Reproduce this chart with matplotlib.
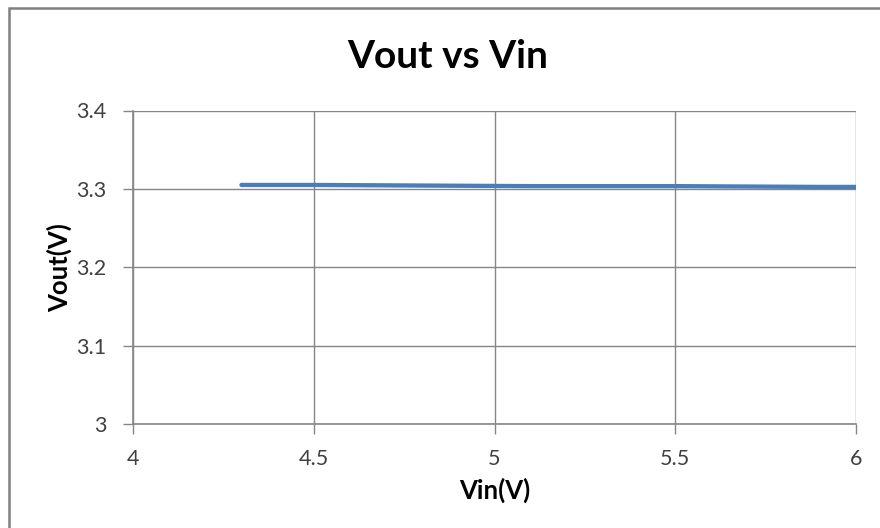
import matplotlib.pyplot as plt
from matplotlib.patches import Rectangle

# Vout vs Vin measurement
vin = [4.3, 4.5, 4.7, 4.9, 5.1, 5.3, 5.5, 5.7, 5.9, 6.0]
vout = [3.305, 3.305, 3.3045, 3.304, 3.3035, 3.3035, 3.3035, 3.303, 3.3025, 3.3025]

x_ticks = [4, 4.5, 5, 5.5, 6]
x_labels = ["4", "4.5", "5", "5.5", "6"]
y_ticks = [3, 3.1, 3.2, 3.3, 3.4]
y_labels = ["3", "3.1", "3.2", "3.3", "3.4"]

plt.rcParams['font.family'] = ['Lato', 'DejaVu Sans']

fig = plt.figure(figsize=(8.8, 5.28), dpi=100)
ax = fig.add_axes([133/880, 1 - 424/528, 723/880, 313.5/528])

grid_col = "#868686"
ax.plot(vin, vout, color="#4A7EBB", linewidth=3.1, solid_capstyle="round", zorder=3)

ax.set_xlim(4, 6)
ax.set_ylim(3, 3.4)
ax.set_xticks(x_ticks)
ax.set_xticklabels(x_labels)
ax.set_yticks(y_ticks)
ax.set_yticklabels(y_labels)
ax.grid(True, color=grid_col, linewidth=1)
ax.set_axisbelow(True)

for side in ["top", "right"]:
    ax.spines[side].set_visible(False)
for side in ["left", "bottom"]:
    ax.spines[side].set_color(grid_col)
    ax.spines[side].set_linewidth(1.2)

ax.tick_params(axis="both", colors=grid_col, labelcolor="#404040", labelsize=15.5,
               length=7, width=1)
ax.tick_params(axis="x", pad=11)
ax.tick_params(axis="y", pad=12)

ax.set_xlabel("Vin(V)", fontsize=18.5, fontweight="bold", labelpad=6)
ax.set_ylabel("Vout(V)", fontsize=18.5, fontweight="bold", labelpad=3)

fig.text(448/880, 1 - 57/528, "Vout vs Vin", fontsize=28, fontweight="bold",
         ha="center", va="center")

# chart area border (only top and left show in the crop)
fig.patches.append(Rectangle((9/880, -0.1), 1.2, 1 - 8/528 + 0.1, transform=fig.transFigure,
                             fill=False, edgecolor="#7f7f7f", linewidth=1.8))

fig.savefig("out.png", dpi=100)
